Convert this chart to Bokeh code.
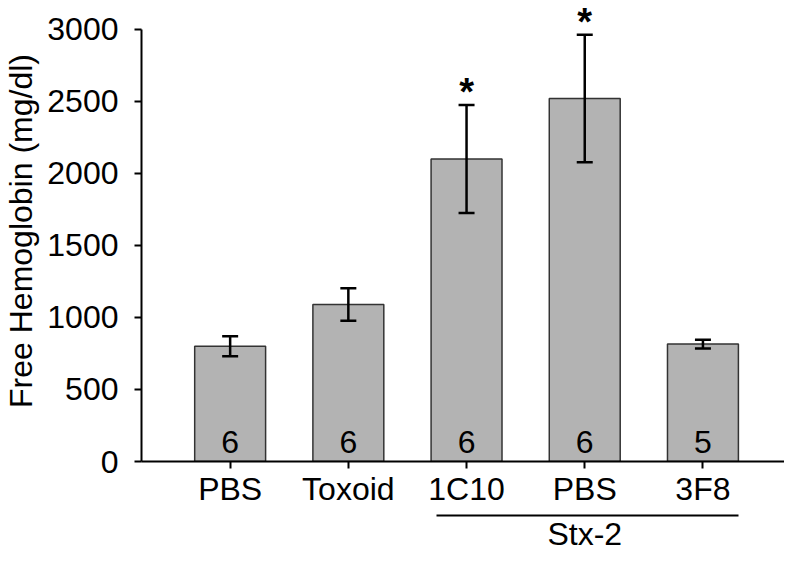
from bokeh.plotting import figure
from bokeh.models import (ColumnDataSource, FixedTicker, Whisker, TeeHead, LabelSet,
                          LinearAxis, Range1d)
from bokeh.core.properties import value
from bokeh.embed import file_html
from bokeh.resources import INLINE

# ---- data ----
categories = ["PBS", "Toxoid", "1C10", "PBS", "3F8"]
means = [800, 1090, 2100, 2520, 815]
errors = [70, 113, 375, 442, 30]
counts = ["6", "6", "6", "6", "5"]
significance = ["", "", "*", "*", ""]
group_label = "Stx-2"
group_first = 2
group_last = 4
y_ticks = [0, 500, 1000, 1500, 2000, 2500, 3000]

FONT = "Liberation Sans"
FS = "32px"

idx = list(range(len(categories)))
upper = [m + e for m, e in zip(means, errors)]
lower = [m - e for m, e in zip(means, errors)]
src = ColumnDataSource(dict(x=idx, top=means, upper=upper, lower=lower,
                            n=counts, sig=significance, zero=[0] * len(idx)))

p = figure(width=784, height=554, output_backend="svg", toolbar_location=None,
           x_range=Range1d(-0.75, 4.69), y_range=Range1d(0, 3200),
           min_border_left=136, min_border_right=0, min_border_top=0,
           min_border_bottom=0)
p.outline_line_color = None
p.xgrid.visible = False
p.ygrid.visible = False
p.background_fill_color = "white"
p.border_fill_color = "white"

p.vbar(x="x", top="top", width=0.6, bottom=0, source=src,
       fill_color="#b3b3b3", line_color="#333333", line_width=1.5)

wh = Whisker(source=src, base="x", upper="upper", lower="lower",
             line_color="black", line_width=2.5, level="annotation",
             upper_head=TeeHead(size=16, line_width=2.5, line_color="black"),
             lower_head=TeeHead(size=16, line_width=2.5, line_color="black"))
p.add_layout(wh)

def style_axis(ax):
    ax.axis_line_width = 2
    ax.axis_line_color = "black"
    ax.major_tick_line_width = 2
    ax.major_tick_line_color = "black"
    ax.major_tick_out = 7
    ax.major_tick_in = 0
    ax.minor_tick_out = 0
    ax.minor_tick_in = 0
    ax.major_label_text_font = FONT
    ax.major_label_text_font_size = FS
    ax.major_label_text_color = "black"

# y axis
ya = p.yaxis[0]
style_axis(ya)
ya.ticker = FixedTicker(ticks=y_ticks)
ya.bounds = (0, 3000)
ya.major_label_standoff = 16
ya.axis_label = "Free Hemoglobin (mg/dl)"
ya.axis_label_text_font = FONT
ya.axis_label_text_font_size = FS
ya.axis_label_text_font_style = "normal"
ya.axis_label_text_color = "black"
ya.axis_label_standoff = 5

# x axis (categories)
xa = p.xaxis[0]
style_axis(xa)
xa.ticker = FixedTicker(ticks=idx)
xa.major_label_overrides = {i: c for i, c in zip(idx, categories)}
xa.major_label_standoff = 2
xa.axis_label = " "
xa.axis_label_standoff = 0
xa.axis_label_text_font_size = "3px"

# group bracket axis (Stx-2)
center = (group_first + group_last) / 2
ga = LinearAxis(ticker=FixedTicker(ticks=[center]),
                major_label_overrides={center: group_label},
                bounds=(group_first - 0.25, group_last + 0.3))
style_axis(ga)
ga.major_tick_out = 0
ga.major_tick_line_color = None
ga.major_label_standoff = 0
p.add_layout(ga, "below")

# counts in bars
p.add_layout(LabelSet(x="x", y="zero", text="n", source=src, y_offset=9,
                      text_align="center", text_baseline="alphabetic",
                      text_font=value(FONT), text_font_size=FS, text_color="black"))
# significance asterisks
p.add_layout(LabelSet(x="x", y="upper", text="sig", source=src, y_offset=0,
                      text_align="center", text_baseline="alphabetic",
                      text_font=value(FONT), text_font_size="38px", text_font_style="bold",
                      text_color="black"))

open("out.html", "w").write(file_html(p, INLINE))
